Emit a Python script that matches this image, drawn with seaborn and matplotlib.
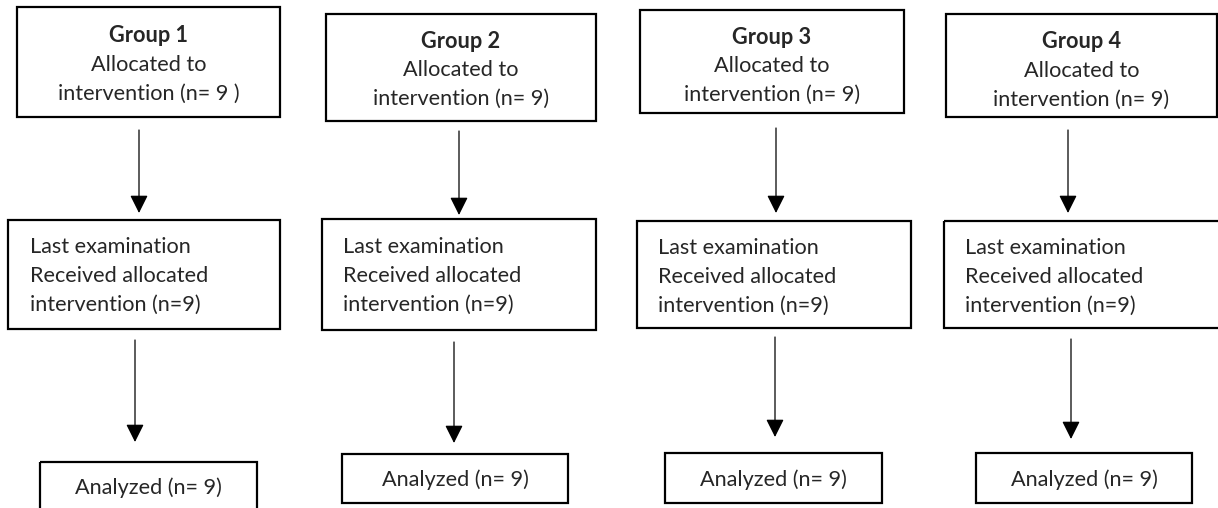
import seaborn as sns
import matplotlib.pyplot as plt
from matplotlib.patches import Rectangle

# flowchart content
groups = ["Group 1", "Group 2", "Group 3", "Group 4"]
allocated_n = ["9 ", "9", "9", "9"]
received_n = [9, 9, 9, 9]
analyzed_n = [9, 9, 9, 9]

# layout in pixel coords (x0, y0, x1, y1), y grows downward
top_boxes = [(17, 7, 280, 117), (326, 14, 596, 121), (640, 10, 904, 113), (946, 14, 1217, 117)]
mid_boxes = [(8, 220, 280, 329), (322, 219, 596, 330), (637, 221, 911, 328), (944, 221, 1222, 328)]
bot_boxes = [(40, 462, 257, 515), (342, 454, 568, 503), (665, 453, 882, 503), (976, 453, 1192, 503)]
arrow1 = [(139, 130, 213), (459, 131, 215), (776, 128, 213), (1068, 130, 213)]
arrow2 = [(135, 340, 442), (454, 342, 443), (775, 337, 437), (1071, 339, 439)]
top_text_y = [36, 41, 37, 42]
mid_text = [(30, 247), (343, 247), (658, 248), (965, 248)]
bot_text_y = [488, 480, 480, 480]
top_clip = [None, None, 99, 104]

sns.set_style("white")
plt.rcParams['font.family'] = ['Lato', 'DejaVu Sans']

fig = plt.figure(figsize=(12.18, 5.08), dpi=100)
ax = fig.add_axes([0, 0, 1, 1])
ax.set_xlim(0, 1218)
ax.set_ylim(508, 0)
ax.axis("off")

fs = 15.6
lh = 29


def box(b):
    x0, y0, x1, y1 = b
    r = Rectangle((x0, y0), x1 - x0, y1 - y0, fill=False, lw=1.6, ec="black")
    ax.add_patch(r)


def arrow(a):
    x, y0, y1 = a
    ax.annotate("", xy=(x, y1), xytext=(x, y0),
                arrowprops=dict(arrowstyle="-|>,head_length=1.1,head_width=0.55",
                                lw=0.9, color="black", shrinkA=0, shrinkB=0))


for i, g in enumerate(groups):
    box(top_boxes[i])
    box(mid_boxes[i])
    box(bot_boxes[i])
    arrow(arrow1[i])
    arrow(arrow2[i])

    x0, y0, x1, y1 = top_boxes[i]
    cx = (x0 + x1) / 2
    ty = top_text_y[i]
    ax.text(cx, ty, g, ha="center", va="center", fontsize=fs, fontweight="bold")
    ax.text(cx, ty + lh, "Allocated to", ha="center", va="center", fontsize=fs)
    t = ax.text(cx, ty + 2 * lh, f"intervention (n= {allocated_n[i]})",
                ha="center", va="center", fontsize=fs)
    if top_clip[i] is not None:
        # text line cut off at the bottom like in the source figure
        clip = Rectangle((x0, y0), x1 - x0, top_clip[i] - y0, transform=ax.transData)
        t.set_clip_path(clip)

    mx, my = mid_text[i]
    ax.text(mx, my, "Last examination", ha="left", va="center", fontsize=fs)
    ax.text(mx, my + lh, "Received allocated", ha="left", va="center", fontsize=fs)
    ax.text(mx, my + 2 * lh, f"intervention (n={received_n[i]})",
            ha="left", va="center", fontsize=fs)

    bx0, by0, bx1, by1 = bot_boxes[i]
    ax.text((bx0 + bx1) / 2, bot_text_y[i], f"Analyzed (n= {analyzed_n[i]})",
            ha="center", va="center", fontsize=fs)

fig.savefig("out.png", dpi=100, facecolor="white")
